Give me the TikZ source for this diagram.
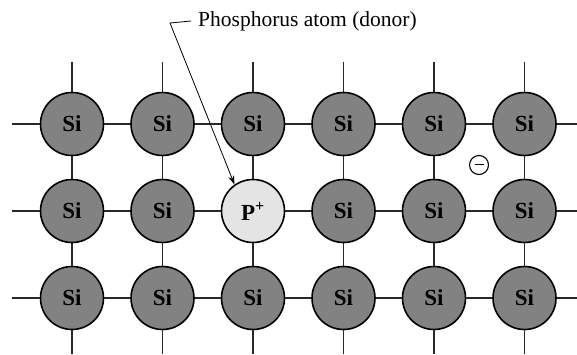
\documentclass[tikz,border=0pt]{standalone}
\usepackage{fontspec}
\setmainfont{Liberation Serif}
\usetikzlibrary{arrows.meta}
\definecolor{sigray}{RGB}{130,130,130}
\definecolor{pgray}{RGB}{228,228,228}
\definecolor{bond}{RGB}{40,40,40}
\tikzset{
  siatom/.style={circle, draw=black, line width=1.6pt, fill=sigray, minimum size=63pt, inner sep=0pt, font=\fontsize{23}{23}\selectfont\bfseries},
  patom/.style={siatom, fill=pgray},
  bondline/.style={draw=bond, line width=1.4pt},
  electron/.style={circle, draw=black, line width=1.1pt, minimum size=19pt, inner sep=0pt},
  leader/.style={draw=black, line width=0.8pt},
  lbl/.style={font=\fontsize{21.5}{21.5}\selectfont, anchor=west, inner sep=0pt}
}
\begin{document}
\begin{tikzpicture}[x=1pt,y=-1pt]
\useasboundingbox (0,0) rectangle (577,354);
% atoms
\foreach \r/\yy in {1/124,3/298}{
  \foreach \c/\xx in {1/72,2/162.5,3/253,4/343.5,5/434,6/524.5}{
    \node[siatom] (n-\r-\c) at (\xx,\yy) {Si};
  }
}
\foreach \c/\xx in {1/72,2/162.5,4/343.5,5/434,6/524.5}{
  \node[siatom] (n-2-\c) at (\xx,211) {Si};
}
\node[patom] (n-2-3) at (253,211) {P\textsuperscript{+}};
% horizontal bonds
\foreach \r in {1,2,3}{
  \foreach \c [evaluate=\c as \d using int(\c+1)] in {1,...,5}{
    \draw[bondline] (n-\r-\c) -- (n-\r-\d);
  }
  \coordinate (l-\r) at (12,0 |- n-\r-1);
  \coordinate (r-\r) at (577,0 |- n-\r-1);
  \draw[bondline] (l-\r) -- (n-\r-1);
  \draw[bondline] (n-\r-6) -- (r-\r);
}
% vertical bonds
\foreach \c in {1,...,6}{
  \draw[bondline] (n-1-\c) -- (n-2-\c);
  \draw[bondline] (n-2-\c) -- (n-3-\c);
  \coordinate (t-\c) at (n-1-\c |- 0,62);
  \coordinate (b-\c) at (n-1-\c |- 0,354);
  \draw[bondline] (t-\c) -- (n-1-\c);
  \draw[bondline] (n-3-\c) -- (b-\c);
}
% free electron
\node[electron] (e) at (479,165) {\rule[0.5pt]{9pt}{1.3pt}};
% label
\node[lbl] (lab) at (198,21) {Phosphorus atom (donor)};
\coordinate (k1) at (191,21);
\coordinate (k2) at (170,23);
\draw[leader, -{Stealth[length=9pt,width=6pt]}] (k1) -- (k2) -- (n-2-3.125);
\end{tikzpicture}
\end{document}
